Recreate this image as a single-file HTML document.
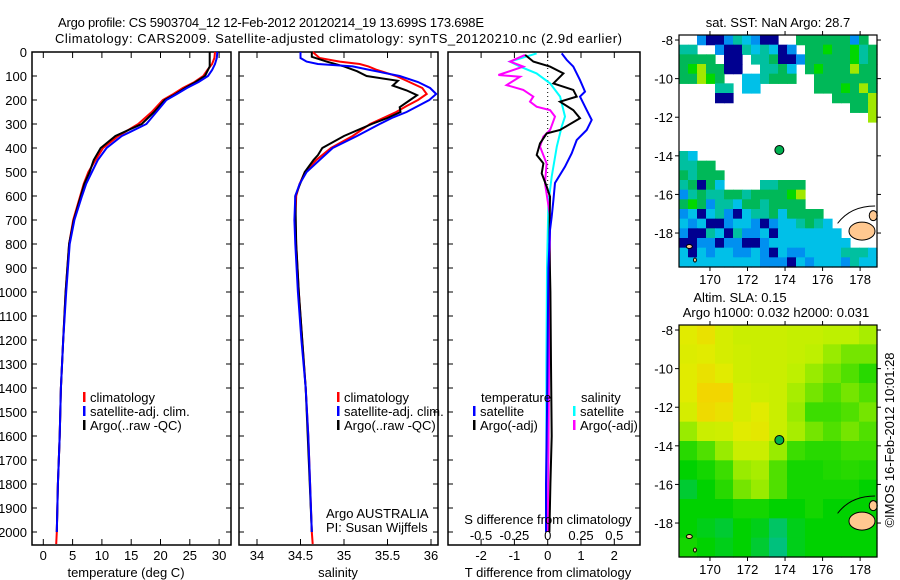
<!DOCTYPE html>
<html><head><meta charset="utf-8">
<style>
body{margin:0;background:#fff;}
svg{display:block;font-family:"Liberation Sans",sans-serif;}
text{fill:#000;font-size:13px;}
</style></head>
<body>
<svg id="fig" width="900" height="580" viewBox="0 0 900 580" xmlns="http://www.w3.org/2000/svg">
<text x="58" y="27" font-size="14" textLength="426">Argo profile: CS 5903704_12 12-Feb-2012 20120214_19 13.699S 173.698E</text>
<text x="55" y="43" font-size="14" textLength="567">Climatology: CARS2009. Satellite-adjusted climatology: synTS_20120210.nc (2.9d earlier)</text>
<g id="p1"></g>
<g id="p2"></g>
<g id="p3"></g>
<g id="m1"></g>
<g id="m2"></g>
<text x="778" y="27" text-anchor="middle">sat. SST: NaN Argo: 28.7</text>
<text x="740" y="302" text-anchor="middle">Altim. SLA: 0.15</text>
<text x="776" y="317" text-anchor="middle">Argo h1000: 0.032 h2000: 0.031</text>
<text transform="translate(894,440) rotate(-90)" text-anchor="middle">©IMOS 16-Feb-2012 10:01:28</text>
</svg>
<script>
// ---- temperature profile data ----
const tDepth=[0,25,50,75,100,125,150,175,200,250,300,350,400,450,500,550,600,700,800,1000,1200,1400,1600,1800,2000,2050];
const tClim=[29.3,29.2,28.8,28.0,27.3,25.8,23.8,22.2,20.4,18.5,16.2,12.8,10.2,8.9,7.7,6.9,6.3,5.1,4.4,3.8,3.4,3.0,2.8,2.5,2.3,2.2];
const tSat=[29.7,29.6,29.3,28.8,28.1,26.5,24.5,22.8,21.0,19.3,17.6,13.4,10.8,9.3,8.3,7.3,6.6,5.3,4.5,3.9,3.4,3.0,2.8,2.5,2.3];
const tArgoDepth=[0,25,50,60,75,100,125,150,175,200,250,300,350,400,450,500,550,600,700,800,1000,1200,1400,1600,1800,2000];
const tArgo=[28.4,28.4,28.4,28.4,28.1,27.6,26.0,24.2,22.6,20.7,18.9,16.8,12.3,9.8,8.6,7.9,7.0,6.4,5.2,4.4,3.8,3.4,3.0,2.8,2.5,2.3];
// ---- salinity profile data ----
const sDepth=[0,25,40,50,60,75,100,125,150,175,200,225,250,275,300,350,400,450,500,550,600,700,800,1000,1200,1400,1600,1800,2000,2050];
const sClim=[34.64,34.72,34.95,35.18,35.28,35.38,35.6,35.75,35.9,35.95,35.85,35.72,35.6,35.45,35.3,35.1,34.85,34.68,34.55,34.49,34.45,34.44,34.45,34.48,34.52,34.56,34.59,34.61,34.63,34.64];
const sSat=[34.5,34.5,34.57,34.7,35.1,35.3,35.64,35.85,35.99,36.06,35.98,35.85,35.72,35.55,35.41,35.15,34.87,34.72,34.57,34.49,34.44,34.43,34.44,34.47,34.51,34.56,34.59,34.61,34.63];
const sArgoDepth=[0,20,40,60,80,100,120,140,160,180,200,230,250,275,300,350,400,430,450,500,600,800,1000,1400,2000];
const sArgo=[34.63,34.63,34.8,35.0,35.15,35.26,35.62,35.56,35.72,35.84,35.76,35.64,35.65,35.5,35.32,35.0,34.75,34.7,34.65,34.55,34.44,34.45,34.48,34.56,34.63];
// ---- difference data ----
const dtSatDepth=[6,33,61,117,165,186,242,283,325,367,422,478,546,617,686,742,900,1200,1500,1800,2000];
const dtSat=[0.42,0.57,0.77,0.97,1.12,0.97,1.17,1.32,1.17,0.87,0.72,0.52,0.22,0.17,0.12,0.07,0.02,0.0,-0.02,-0.05,-0.05];
const dtArgoDepth=[12,40,61,89,131,158,186,207,242,276,325,339,381,429,464,506,561,603,800,1000,1300,1600,1800,2000];
const dtArgo=[-0.68,-0.43,0.07,0.47,0.17,0.77,0.87,0.37,0.77,0.97,0.37,-0.03,-0.23,-0.33,-0.13,-0.18,-0.03,0.07,0.05,0.08,0.1,0.12,0.08,0.05];
const dsSatDepth=[6,40,61,89,131,186,269,311,394,519,630,900,1300,1700,2000];
const dsSat=[-0.083,-0.283,-0.208,-0.083,0.018,0.093,0.13,0.105,0.068,0.03,0.005,-0.005,-0.01,-0.01,-0.01];
const dsArgoDepth=[12,40,61,96,103,138,158,186,207,228,242,269,325,353,394,464,547,686,900,1300,1700,2000];
const dsArgo=[-0.17,-0.283,-0.183,-0.37,-0.208,-0.308,-0.183,-0.108,-0.133,-0.083,0.018,0.055,0.018,-0.033,-0.058,-0.008,-0.02,0.018,0.015,0.01,0.005,0.0];
const depthTicks=[0,100,200,300,400,500,600,700,800,900,1000,1100,1200,1300,1400,1500,1600,1700,1800,1900,2000];
const tTicks=[0,5,10,15,20,25,30];
const sTicks=[34,34.5,35,35.5,36];
const sTickLabels=["34","34.5","35","35.5","36"];
const dTicks=[-2,-1,0,1,2];
const dsTicks=[-0.5,-0.25,0,0.25,0.5];
const dsTickLabels=["-0.5","-0.25","0","0.25","0.5"];
// ---- map data ----
const lonTicks=[170,172,174,176,178];
const latTicks=[-8,-10,-12,-14,-16,-18];
const argoLon=173.698, argoLat=-13.699;
const sstGrid=[
"WWbNNbTCbNNWWGGGGGGbGW",
"TTWWbNNTCTCNbWGGgGGgTG",
"GGGGWNNWTTGNNbGGGGGgTG",
"GgLGGNNWWTTGCWGgGGGLGG",
"GGLgGWWCCTGGGWWGGGGGGG",
"WWWWTTWCCWWWWWWGGGgGLG",
"WWWWNNWWWWWWWWWWWGGGGL",
"WWWWWWWWWWWWWWWWWWWGGL",
"WWWWWWWWWWWWWWWWWWWWWL",
"WWWWWWWWWWWWWWWWWWWWWW",
"WWWWWWWWWWWWWWWWWWWWWW",
"WWWWWWWWWWWWWWWWWWWWWW",
"TCWWWWWWWWWWWWWWWWWWWW",
"TTGGWWWWWWWWWWWWWWWWWW",
"GTGGGWWWWWWWWWWWWWWWWW",
"TGNGCWWWWTTGGGWWWWWWWW",
"bTGTTGGTGGGGgLWWWWWWWW",
"GgGbTTCGGTGGGGWWWWWWWW",
"bCNCTbNCTTGCGGGGWWWWWW",
"CbCNNbCCbNbCCTGTCWWWWW",
"bNNTCNTbbCNCCCCCCCWWWW",
"NNbbNbbNNbCCCCCCCCCWWW",
"CNCbCCbbCbNCbbCCCCTTTC",
"CCCCCCCCCbbbNCbCCCbTCC"];
const slaGrid=[
[0.8,0.85,0.75,0.7,0.7,0.7,0.68,0.68,0.65,0.65,0.62],
[0.78,0.8,0.75,0.72,0.7,0.7,0.68,0.65,0.6,0.55,0.55],
[0.8,0.85,0.8,0.72,0.7,0.7,0.65,0.6,0.55,0.5,0.4],
[0.8,0.9,0.9,0.75,0.72,0.7,0.62,0.55,0.5,0.55,0.5],
[0.75,0.88,0.85,0.75,0.8,0.7,0.6,0.45,0.45,0.5,0.55],
[0.6,0.7,0.72,0.8,0.82,0.7,0.62,0.55,0.5,0.55,0.5],
[0.4,0.5,0.6,0.7,0.7,0.6,0.45,0.4,0.4,0.45,0.45],
[0.3,0.35,0.45,0.6,0.62,0.5,0.35,0.35,0.38,0.4,0.38],
[0.2,0.3,0.4,0.55,0.6,0.5,0.35,0.35,0.35,0.35,0.3],
[0.3,0.3,0.3,0.35,0.35,0.3,0.3,0.35,0.3,0.3,0.3],
[0.3,0.25,0.2,0.3,0.25,0.1,0.25,0.3,0.3,0.3,0.3],
[0.35,0.3,0.25,0.3,0.2,0.05,0.25,0.3,0.3,0.3,0.3]];

const NS="http://www.w3.org/2000/svg";
function mk(parent,tag,attrs,txt){const e=document.createElementNS(NS,tag);for(const k in attrs)e.setAttribute(k,attrs[k]);if(txt!==undefined)e.textContent=txt;parent.appendChild(e);return e;}
const TOP=52,BOT=545;
const yD=d=>TOP+d*0.24;
const xT=v=>43.3+v*5.86;
const xS=v=>257+(v-34)*87;
const xDT=v=>547.7+v*33.3;
const xDS=v=>547.7+v*133.3;

function frame(g,x0,x1,name){
  const r=mk(g,'rect',{x:x0,y:TOP,width:x1-x0,height:BOT-TOP,fill:'none',stroke:'#000','stroke-width':1.5});
  
  
  depthTicks.forEach(d=>{mk(g,'line',{x1:x0,x2:x0+5,y1:yD(d),y2:yD(d),stroke:'#000'});mk(g,'line',{x1:x1,x2:x1-5,y1:yD(d),y2:yD(d),stroke:'#000'});});
}
function xticks(g,xs,fn){xs.forEach(v=>{const x=fn(v);mk(g,'line',{x1:x,x2:x,y1:TOP,y2:TOP+6,stroke:'#000'});mk(g,'line',{x1:x,x2:x,y1:BOT,y2:BOT-6,stroke:'#000'});});}
function line(g,ds,vs,fn,color,name){
  const pts=vs.map((v,i)=>fn(v).toFixed(1)+','+yD(ds[i]).toFixed(1)).join(' ');
  const p=mk(g,'polyline',{points:pts,fill:'none',stroke:color,'stroke-width':2});
  
  
}
function legend(g,x,y,color,label,name){
  mk(g,'rect',{x:x,y:y-10,width:2.5,height:10,fill:color});
  const t=mk(g,'text',{x:x+7,y:y},label);
  
  
}

// panel 1
const p1=document.getElementById('p1');
frame(p1,32,231,'temperature-plot-frame');
xticks(p1,tTicks,xT);
depthTicks.forEach(d=>{const t=mk(p1,'text',{x:27,y:yD(d)+5,'text-anchor':'end'},String(d));});
tTicks.forEach(v=>{const t=mk(p1,'text',{x:xT(v),y:560,'text-anchor':'middle'},String(v));});
{const t=mk(p1,'text',{x:126,y:577,'text-anchor':'middle'},'temperature (deg C)');}
line(p1,tDepth,tClim,xT,'#ff0000','temperature-climatology-line');
line(p1,tArgoDepth,tArgo,xT,'#000000','temperature-argo-line');
line(p1,tDepth.slice(0,tSat.length),tSat,xT,'#0000ff','temperature-satellite-line');
legend(p1,83,402,'#ff0000','climatology','legend-climatology');
legend(p1,83,416,'#0000ff','satellite-adj. clim.','legend-satellite-adj');
legend(p1,83,430,'#000000','Argo(..raw -QC)','legend-argo');

// panel 2
const p2=document.getElementById('p2');
frame(p2,239,438,'salinity-plot-frame');
xticks(p2,sTicks,xS);
sTicks.forEach((v,i)=>{const t=mk(p2,'text',{x:xS(v),y:560,'text-anchor':'middle'},sTickLabels[i]);});
{const t=mk(p2,'text',{x:338,y:577,'text-anchor':'middle'},'salinity');}
line(p2,sDepth,sClim,xS,'#ff0000','salinity-climatology-line');
line(p2,sArgoDepth,sArgo,xS,'#000000','salinity-argo-line');
line(p2,sDepth.slice(0,sSat.length),sSat,xS,'#0000ff','salinity-satellite-line');
legend(p2,337,402,'#ff0000','climatology','legend-climatology-2');
legend(p2,337,416,'#0000ff','satellite-adj. clim.','legend-satellite-adj-2');
legend(p2,337,430,'#000000','Argo(..raw -QC)','legend-argo-2');
{const t=mk(p2,'text',{x:326,y:518},'Argo AUSTRALIA');}
{const t=mk(p2,'text',{x:326,y:532},'PI: Susan Wijffels');}

// panel 3
const p3=document.getElementById('p3');
frame(p3,448,640,'difference-plot-frame');
xticks(p3,dTicks,xDT);
mk(p3,'line',{x1:xDT(0),x2:xDT(0),y1:TOP,y2:yD(620),stroke:'#000','stroke-dasharray':'1,3'});
line(p3,dsSatDepth,dsSat,xDS,'#00ffff','salinity-satellite-diff-line');
line(p3,dsArgoDepth,dsArgo,xDS,'#ff00ff','salinity-argo-diff-line');
line(p3,dtArgoDepth,dtArgo,xDT,'#000000','temperature-argo-diff-line');
line(p3,dtSatDepth,dtSat,xDT,'#0000ff','temperature-satellite-diff-line');
{const t=mk(p3,'text',{x:481,y:402},'temperature');}
{const t=mk(p3,'text',{x:581,y:402},'salinity');}
legend(p3,473,416,'#0000ff','satellite','legend-t-satellite');
legend(p3,473,430,'#000000','Argo(-adj)','legend-t-argo');
legend(p3,573,416,'#00ffff','satellite','legend-s-satellite');
legend(p3,573,430,'#ff00ff','Argo(-adj)','legend-s-argo');
{const t=mk(p3,'text',{x:548,y:524,'text-anchor':'middle'},'S difference from climatology');}
dsTicks.forEach((v,i)=>{const t=mk(p3,'text',{x:xDS(v),y:540,'text-anchor':'middle'},dsTickLabels[i]);});
dTicks.forEach(v=>{const t=mk(p3,'text',{x:xDT(v),y:560,'text-anchor':'middle'},String(v));});
{const t=mk(p3,'text',{x:548,y:577,'text-anchor':'middle'},'T difference from climatology');}

// maps
const MX0=679,MX1=877,LON0=168.35,LON1=178.9,LAT0=-7.74,LAT1=-19.76;
const SSTC={W:'#ffffff',N:'#000090',B:'#1050e0',b:'#0090f0',C:'#00c0e8',T:'#00c0a0',G:'#00b858',g:'#00d800',L:'#a0e800'};
function slaColor(v){
  const stops=[[0,[0,190,150]],[0.3,[0,210,0]],[0.5,[80,224,0]],[0.65,[190,240,0]],[0.8,[225,235,0]],[0.92,[245,210,0]]];
  let i=0;while(i<stops.length-2&&v>stops[i+1][0])i++;
  const a=stops[i],b=stops[i+1];let f=(v-a[0])/(b[0]-a[0]);f=Math.max(0,Math.min(1,f));
  const c=a[1].map((x,k)=>Math.round(x+(b[1][k]-x)*f));return 'rgb('+c.join(',')+')';
}
function drawMap(id,Y0,Y1,fillFn,rows,cols){
  const g=document.getElementById(id);
  const xL=lon=>MX0+(lon-LON0)/(LON1-LON0)*(MX1-MX0);
  const yL=lat=>Y0+(lat-LAT0)/(LAT1-LAT0)*(Y1-Y0);
  const cw=(MX1-MX0)/cols,ch=(Y1-Y0)/rows;
  for(let r=0;r<rows;r++)for(let c=0;c<cols;c++){
    const col=fillFn(r,c);if(col==='#ffffff')continue;
    const cell=mk(g,'rect',{x:(MX0+c*cw).toFixed(2),y:(Y0+r*ch).toFixed(2),width:(cw+0.6).toFixed(2),height:(ch+0.6).toFixed(2),fill:col});
    
    
  }
  mk(g,'ellipse',{cx:xL(178.1),cy:yL(-17.9),rx:13,ry:9,fill:'#ffc890',stroke:'#000'});
  mk(g,'ellipse',{cx:xL(178.7),cy:yL(-17.1),rx:4,ry:5,fill:'#ffc890',stroke:'#000'});
  mk(g,'path',{d:`M${xL(176.8)} ${yL(-17.5)} Q${xL(177.5)} ${yL(-16.6)} ${xL(178.8)} ${yL(-16.6)}`,fill:'none',stroke:'#000'});
  mk(g,'ellipse',{cx:xL(168.9),cy:yL(-18.7),rx:3,ry:2,fill:'#ffc890',stroke:'#000'});
  mk(g,'ellipse',{cx:xL(169.2),cy:yL(-19.4),rx:1.5,ry:2,fill:'#ffc890',stroke:'#000'});
  mk(g,'rect',{x:MX0,y:Y0,width:MX1-MX0,height:Y1-Y0,fill:'none',stroke:'#000','stroke-width':1.2});
  lonTicks.forEach(l=>{const x=xL(l);mk(g,'line',{x1:x,x2:x,y1:Y0,y2:Y0-4,stroke:'#000'});mk(g,'line',{x1:x,x2:x,y1:Y1,y2:Y1+4,stroke:'#000'});
    const t=mk(g,'text',{x:x,y:Y1+17,'text-anchor':'middle'},String(l));});
  latTicks.forEach(l=>{const y=yL(l);mk(g,'line',{x1:MX0,x2:MX0-4,y1:y,y2:y,stroke:'#000'});mk(g,'line',{x1:MX1,x2:MX1+4,y1:y,y2:y,stroke:'#000'});
    const t=mk(g,'text',{x:MX0-6,y:y+5,'text-anchor':'end'},String(l));});
  const dot=mk(g,'circle',{cx:xL(argoLon),cy:yL(argoLat),r:4.5,fill:'#00b050',stroke:'#000'});
  
  
}
drawMap('m1',35,267,(r,c)=>SSTC[sstGrid[r][c]]||'#ffffff',sstGrid.length,sstGrid[0].length);
drawMap('m2',325,557,(r,c)=>slaColor(slaGrid[r][c]),slaGrid.length,slaGrid[0].length);
</script>
</body></html>
